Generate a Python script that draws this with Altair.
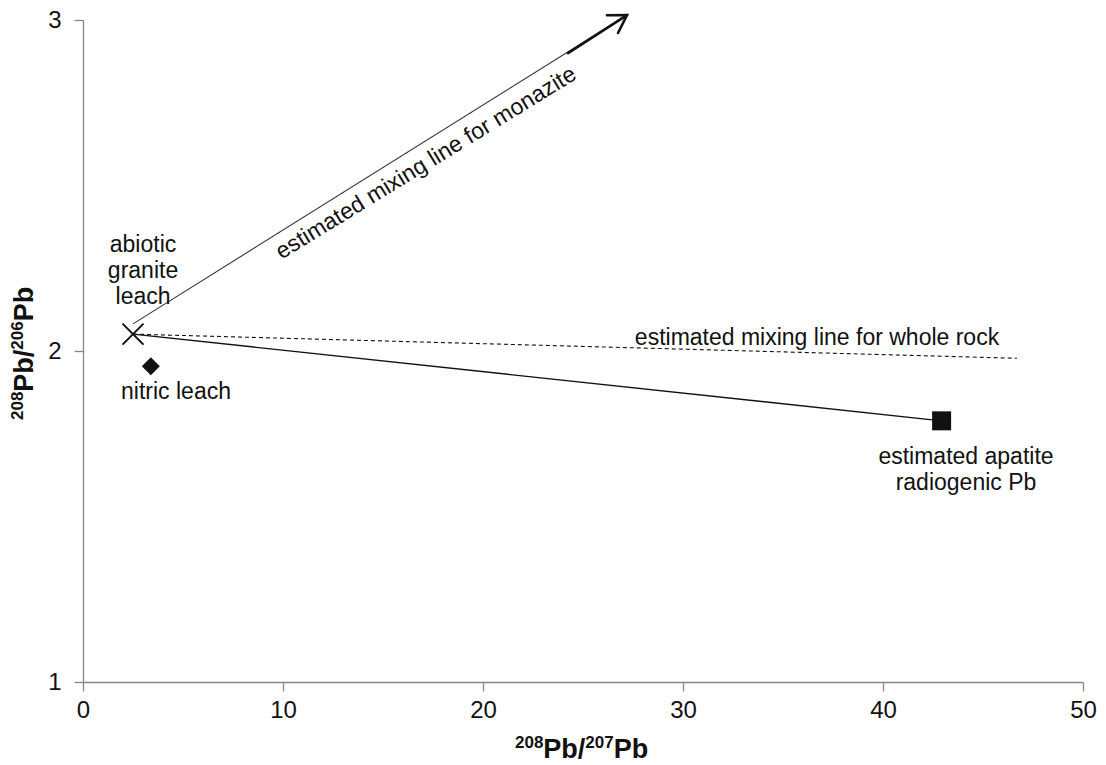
import altair as alt
import pandas as pd

FONT = "Liberation Sans"
INK = "#111111"
AXIS_GREY = "#868686"

# axis ticks
x_ticks = [0, 10, 20, 30, 40, 50]
y_ticks = [1, 2, 3]

# end-member samples (208Pb/207Pb, 208Pb/206Pb)
sample_names = ["abiotic granite leach", "nitric leach", "estimated apatite radiogenic Pb"]
sample_x = [2.5, 3.39, 42.93]
sample_y = [2.051, 1.954, 1.789]

# estimated mixing lines
monazite_x = [2.5, 27.2]
monazite_y = [2.082, 3.015]
monazite_stem_x = [24.25, 27.2]
monazite_stem_y = [2.90, 3.015]
whole_rock_x = [2.5, 46.7]
whole_rock_y = [2.051, 1.978]
apatite_x = [2.5, 42.93]
apatite_y = [2.051, 1.789]

# text annotations
label_text = ["abiotic\ngranite\nleach", "nitric leach",
              "estimated mixing line for whole rock",
              "estimated apatite\nradiogenic Pb"]
label_x = [3.0, 4.65, 36.7, 44.15]
label_y = [2.299, 1.855, 2.018, 1.659]

rotated_text = ["estimated mixing line for monazite"]
rotated_x = [17.15]
rotated_y = [2.568]

# axis titles: isotope ratios written as (superscript mass, element) pieces
x_title_parts = [("208", "Pb/"), ("207", "Pb")]
y_title_parts = [("208", "Pb/"), ("206", "Pb")]

samples = pd.DataFrame({"name": sample_names, "x": sample_x, "y": sample_y})
labels = pd.DataFrame({"text": label_text, "x": label_x, "y": label_y})
rotated = pd.DataFrame({"text": rotated_text, "x": rotated_x, "y": rotated_y})


def seg(xs, ys):
    return pd.DataFrame({"x": xs, "y": ys, "order": list(range(len(xs)))})


x_scale = alt.Scale(domain=[0, 50], nice=False, zero=False)
y_scale = alt.Scale(domain=[1, 3], nice=False, zero=False)

axis_style = dict(
    grid=False, labelFlush=False, labelOverlap=False,
    domainColor=AXIS_GREY, domainWidth=1.3,
    tickColor=AXIS_GREY, tickWidth=1.3, tickSize=9,
    labelFont=FONT, labelFontSize=24, labelColor=INK, title=None,
)
x_axis = alt.Axis(values=x_ticks, labelPadding=7, **axis_style)
y_axis = alt.Axis(values=y_ticks, format=".0f", labelPadding=13, **axis_style)


def xy():
    return dict(
        x=alt.X("x:Q", scale=x_scale, axis=x_axis),
        y=alt.Y("y:Q", scale=y_scale, axis=y_axis),
    )


def line(df, **style):
    return alt.Chart(df).mark_line(clip=False, **style).encode(
        order="order:Q", **xy())


monazite = line(seg(monazite_x, monazite_y), color="#333333", strokeWidth=1.1)
monazite_stem = line(seg(monazite_stem_x, monazite_stem_y), color=INK,
                     strokeWidth=2.6, strokeCap="round")
arrow_head = alt.Chart(pd.DataFrame({"x": monazite_x[-1:], "y": monazite_y[-1:]})).mark_point(
    shape="M-0.55,0.9L0,0L0.55,0.9", filled=False, stroke=INK, strokeWidth=2.6,
    size=1444, angle=58, opacity=1, clip=False, strokeCap="round", strokeJoin="miter",
).encode(**xy())
whole_rock = line(seg(whole_rock_x, whole_rock_y), color=INK, strokeWidth=1.1,
                  strokeDash=[4, 3])
apatite = line(seg(apatite_x, apatite_y), color=INK, strokeWidth=1.4)

leach_mark = alt.Chart(samples.iloc[[0]]).mark_point(
    shape="M-1,-1L1,1M-1,1L1,-1", filled=False, stroke=INK, strokeWidth=2,
    size=441, opacity=1,
).encode(**xy())
nitric_mark = alt.Chart(samples.iloc[[1]]).mark_point(
    shape="diamond", filled=True, color=INK, size=324, opacity=1,
).encode(**xy())
apatite_mark = alt.Chart(samples.iloc[[2]]).mark_point(
    shape="square", filled=True, color=INK, size=361, opacity=1,
).encode(**xy())

text_labels = alt.Chart(labels).mark_text(
    font=FONT, fontSize=23, color=INK, align="center", baseline="alphabetic",
    lineBreak="\n", lineHeight=26,
).encode(text="text:N", **xy())
rotated_label = alt.Chart(rotated).mark_text(
    font=FONT, fontSize=23, color=INK, align="center", baseline="middle",
    angle=328.5,
).encode(text="text:N", **xy())

# --- axis titles with superscript mass numbers -------------------------
MAIN_SIZE = 27
SUP_SIZE = 17
SUP_RAISE = 10
# Liberation Sans Bold advance widths (em)
ADV = {"P": 0.667, "b": 0.611, "/": 0.278}
ADV.update({d: 0.556 for d in "0123456789"})


def text_width(s, size):
    return sum(ADV[c] for c in s) * size


def title_pieces(parts, start, cross, vertical):
    """Lay the pieces out along the reading direction from `start`."""
    layers = []
    pos = start
    for sup, main in parts:
        for txt, size, raise_ in ((sup, SUP_SIZE, SUP_RAISE), (main, MAIN_SIZE, 0)):
            if vertical:
                px, py, ang = cross - raise_, pos, 270
                pos -= text_width(txt, size)
            else:
                px, py, ang = pos, cross - raise_, 0
                pos += text_width(txt, size)
            layers.append(
                alt.Chart(pd.DataFrame({"t": [txt]})).mark_text(
                    font=FONT, fontSize=size, fontWeight="bold", color=INK,
                    align="left", baseline="alphabetic", angle=ang,
                ).encode(text="t:N", x=alt.value(px), y=alt.value(py))
            )
    return layers


# plot-area pixel frame: x from 0 to 1000, y from 0 to 662
x_title = title_pieces(x_title_parts, start=432, cross=738, vertical=False)
y_title = title_pieces(y_title_parts, start=400, cross=-50, vertical=True)

chart = alt.layer(
    monazite, monazite_stem, arrow_head, whole_rock, apatite,
    leach_mark, nitric_mark, apatite_mark, text_labels, rotated_label,
    *x_title, *y_title,
).properties(
    width=1000, height=662,
    padding={"left": 83, "top": 20, "right": 23, "bottom": 83},
    autosize=alt.AutoSizeParams(type="none"),
    background="white",
).configure_view(stroke=None)

chart.save("out.html", embed_options={"renderer": "svg", "actions": False})
